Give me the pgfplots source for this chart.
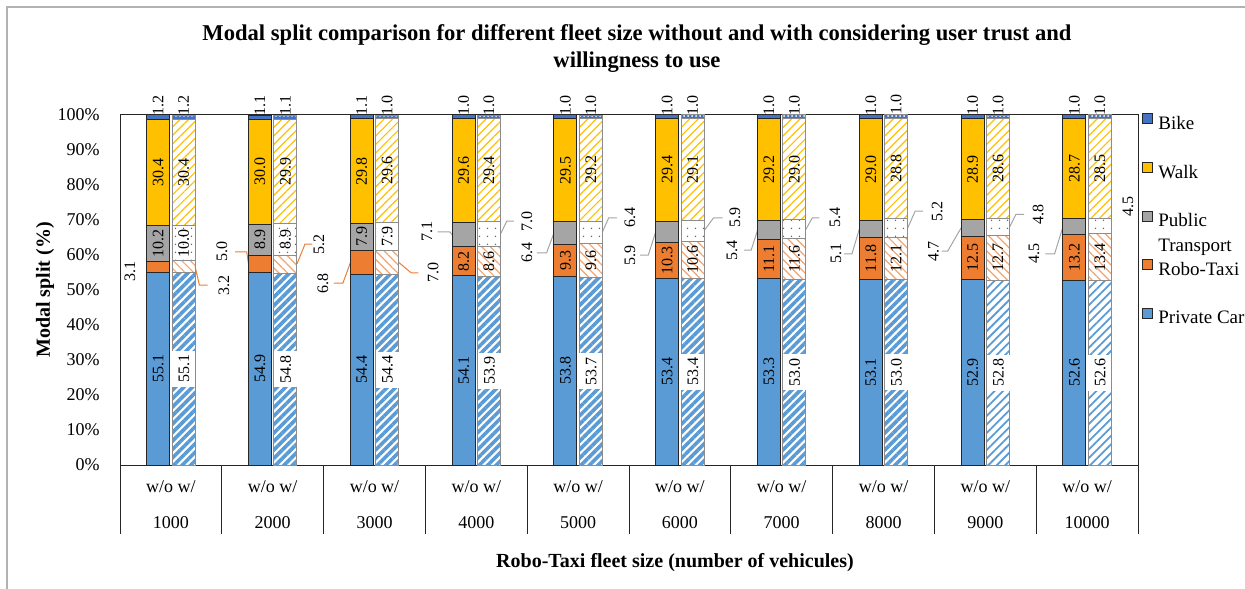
\documentclass[border=0pt]{standalone}
\usepackage{fontspec}
\setmainfont{Liberation Serif}
\usepackage{pgfplots}
\pgfplotsset{compat=1.18}
\usetikzlibrary{patterns.meta}

\definecolor{pcblue}{HTML}{5B9BD5}
\definecolor{rtorange}{HTML}{ED7D31}
\definecolor{ptgray}{HTML}{A5A5A5}
\definecolor{walkyellow}{HTML}{FFC000}
\definecolor{bikeblue}{HTML}{4472C4}

% white box behind the labels on the hatched car bars
\protected\def\wl#1{{\setlength\fboxsep{0pt}\colorbox{white}{\rule[-3pt]{0pt}{11.5pt}\hspace{2pt}#1\hspace{2pt}}}}
\protected\def\st{\strut}

\tikzset{lab/.style={rotate=90, font=\fontsize{8}{9}\selectfont, inner sep=0pt}}

\pgfplotsset{
  modal/.style={
    scale only axis, width=509pt, height=175pt,
    at={(60pt,-232.5pt)}, anchor=south west,
    xmin=-0.5, xmax=9.5, ymin=0, ymax=100,
    ybar stacked, bar width=0.225,
    clip=false,
    nodes near coords, point meta=explicit symbolic,
    every node near coord/.append style={rotate=90, anchor=center,
      font=\fontsize{8}{9}\selectfont, inner sep=0.5pt, text=black},
  },
  wo/.style={draw=black!85, line width=0.5pt},
  wi/.style={draw=black!45, line width=0.5pt},
}

\begin{document}
\begin{tikzpicture}
\useasboundingbox (0,0) rectangle (622.5pt,-294pt);
\draw[black!30, line width=0.8pt] (3.5pt,-3.5pt) rectangle (640pt,-310pt);

% ---- without trust: axis, ticks, legend
\begin{axis}[modal,
    tick pos=left, major tick length=0pt,
    axis line style={black!85, line width=0.5pt},
    ytick={0,10,...,100},
    yticklabels={0\%,10\%,20\%,30\%,40\%,50\%,60\%,70\%,80\%,90\%,100\%},
    yticklabel style={font=\fontsize{9}{11}\selectfont, inner xsep=0pt, xshift=-10pt},
    xtick={0,...,9},
    xticklabels={{w/o w/\\[7pt]1000}, {w/o w/\\[7pt]2000}, {w/o w/\\[7pt]3000},
      {w/o w/\\[7pt]4000}, {w/o w/\\[7pt]5000}, {w/o w/\\[7pt]6000}, {w/o w/\\[7pt]7000},
      {w/o w/\\[7pt]8000}, {w/o w/\\[7pt]9000}, {w/o w/\\[7pt]10000}},
    xticklabel style={font=\fontsize{9}{11}\selectfont, align=center, yshift=-4.5pt},
    extra x ticks={-0.5,0.5,...,9.5},
    extra x tick labels={},
    extra x tick style={major tick length=34.5pt, tick align=outside,
      tick style={draw=black!85, line width=0.5pt}},
    legend style={at={(1,1)}, anchor=north west, xshift=2pt, yshift=1pt,
      draw=none, fill=none, inner sep=0pt, row sep=2.6pt, column sep=2.5pt,
      nodes={inner sep=0pt}, font=\fontsize{9.5}{11.5}\selectfont},
    legend cell align=left,
    legend image code/.code={\draw[#1] (0pt,-0.5pt) rectangle (5pt,4.5pt);},
    reverse legend,
  ]
  \addplot[wo, fill=pcblue] coordinates {
    (-0.125,55.1) [55.1] (0.875,54.9) [54.9] (1.875,54.4) [54.4] (2.875,54.1) [54.1]
    (3.875,53.8) [53.8] (4.875,53.4) [53.4] (5.875,53.3) [53.3] (6.875,53.1) [53.1]
    (7.875,52.9) [52.9] (8.875,52.6) [52.6]};
  \addlegendentry{\st Private Car}
  \addlegendimage{empty legend}\addlegendentry{\st}
  \addplot[wo, fill=rtorange] coordinates {
    (-0.125,3.1) [] (0.875,5.0) [] (1.875,6.8) [] (2.875,8.2) [8.2]
    (3.875,9.3) [9.3] (4.875,10.3) [10.3] (5.875,11.1) [11.1] (6.875,11.8) [11.8]
    (7.875,12.5) [12.5] (8.875,13.2) [13.2]};
  \addlegendentry{\st Robo-Taxi}
  \addlegendimage{empty legend}\addlegendentry{\st Transport}
  \addplot[wo, fill=ptgray] coordinates {
    (-0.125,10.2) [10.2] (0.875,8.9) [8.9] (1.875,7.9) [7.9] (2.875,7.1) []
    (3.875,6.4) [] (4.875,5.9) [] (5.875,5.4) [] (6.875,5.1) []
    (7.875,4.7) [] (8.875,4.5) []};
  \addlegendentry{\st Public}
  \addlegendimage{empty legend}\addlegendentry{\st}
  \addplot[wo, fill=walkyellow] coordinates {
    (-0.125,30.4) [30.4] (0.875,30.0) [30.0] (1.875,29.8) [29.8] (2.875,29.6) [29.6]
    (3.875,29.5) [29.5] (4.875,29.4) [29.4] (5.875,29.2) [29.2] (6.875,29.0) [29.0]
    (7.875,28.9) [28.9] (8.875,28.7) [28.7]};
  \addlegendentry{\st Walk}
  \addlegendimage{empty legend}\addlegendentry{\st}
  \addplot[wo, fill=bikeblue,
      every node near coord/.append style={anchor=west}] coordinates {
    (-0.125,1.2) [1.2] (0.875,1.1) [1.1] (1.875,1.1) [1.1] (2.875,1.0) [1.0]
    (3.875,1.0) [1.0] (4.875,1.0) [1.0] (5.875,1.0) [1.0] (6.875,1.0) [1.0]
    (7.875,1.0) [1.0] (8.875,1.0) [1.0]};
  \addlegendentry{\st Bike}

  % labels moved out of the thin segments
  \node[lab] at (axis cs:-0.402,55.4) {3.1};
  \draw[rtorange, line width=0.5pt] (axis cs:0.7625,57.4) -- (axis cs:0.745,60.9) -- (axis cs:0.63,60.9);
  \node[lab] at (axis cs:0.502,60.9) {5.0};
  \draw[rtorange, line width=0.5pt] (axis cs:1.7625,57.8) -- (axis cs:1.69,52.0) -- (axis cs:1.60,52.0);
  \node[lab] at (axis cs:1.494,52.0) {6.8};
  \draw[ptgray, line width=0.5pt] (axis cs:2.7625,65.85) -- (axis cs:2.74,66.6) -- (axis cs:2.62,66.6);
  \node[lab] at (axis cs:2.516,66.6) {7.1};
  \draw[ptgray, line width=0.5pt] (axis cs:3.7625,66.3) -- (axis cs:3.69,60.6) -- (axis cs:3.596,60.6);
  \node[lab] at (axis cs:3.498,60.6) {6.4};
  \draw[ptgray, line width=0.5pt] (axis cs:4.7625,66.65) -- (axis cs:4.69,60.0) -- (axis cs:4.61,60.0);
  \node[lab] at (axis cs:4.51,60.0) {5.9};
  \draw[ptgray, line width=0.5pt] (axis cs:5.7625,67.1) -- (axis cs:5.70,61.4) -- (axis cs:5.63,61.4);
  \node[lab] at (axis cs:5.512,61.4) {5.4};
  \draw[ptgray, line width=0.5pt] (axis cs:6.7625,67.45) -- (axis cs:6.69,60.3) -- (axis cs:6.61,60.3);
  \node[lab] at (axis cs:6.533,60.3) {5.1};
  \draw[ptgray, line width=0.5pt] (axis cs:7.7625,67.75) -- (axis cs:7.63,61.1) -- (axis cs:7.57,61.1);
  \node[lab] at (axis cs:7.49,61.1) {4.7};
  \draw[ptgray, line width=0.5pt] (axis cs:8.7625,68.05) -- (axis cs:8.68,60.3) -- (axis cs:8.59,60.3);
  \node[lab] at (axis cs:8.479,60.3) {4.5};
\end{axis}

% ---- with trust and willingness to use
\begin{axis}[modal, hide axis]
  \addplot[wi, pattern={Lines[angle=45,distance=3pt,line width=1.8pt]}, pattern color=pcblue] coordinates {
    (0.125,55.1) [\wl{55.1}] (1.125,54.8) [\wl{54.8}] (2.125,54.4) [\wl{54.4}] (3.125,53.9) [\wl{53.9}]
    (4.125,53.7) [\wl{53.7}] (5.125,53.4) [\wl{53.4}] (6.125,53.0) [\wl{53.0}] (7.125,53.0) [\wl{53.0}]
    (8.125,0) [] (9.125,0) []};
  \addplot[wi, pattern={Lines[angle=45,distance=3pt,line width=0.9pt]}, pattern color=pcblue] coordinates {
    (0.125,0) [] (1.125,0) [] (2.125,0) [] (3.125,0) []
    (4.125,0) [] (5.125,0) [] (6.125,0) [] (7.125,0) []
    (8.125,52.8) [\wl{52.8}] (9.125,52.6) [\wl{52.6}]};
  \addplot[wi, pattern={Lines[angle=-45,distance=3pt,line width=0.6pt]}, pattern color=rtorange!70] coordinates {
    (0.125,3.2) [] (1.125,5.2) [] (2.125,7.0) [] (3.125,8.6) [8.6]
    (4.125,9.6) [9.6] (5.125,10.6) [10.6] (6.125,11.6) [11.6] (7.125,12.1) [12.1]
    (8.125,12.7) [12.7] (9.125,13.4) [13.4]};
  \addplot[wi, pattern={Dots[distance=4pt,radius=0.45pt]}, pattern color=black!60] coordinates {
    (0.125,10.0) [10.0] (1.125,8.9) [8.9] (2.125,7.9) [7.9] (3.125,7.0) []
    (4.125,6.4) [] (5.125,5.9) [] (6.125,5.4) [] (7.125,5.2) []
    (8.125,4.8) [] (9.125,4.5) []};
  \addplot[wi, pattern={Lines[angle=45,distance=3pt,line width=0.6pt]}, pattern color=walkyellow] coordinates {
    (0.125,30.4) [30.4] (1.125,29.9) [29.9] (2.125,29.6) [29.6] (3.125,29.4) [29.4]
    (4.125,29.2) [29.2] (5.125,29.1) [29.1] (6.125,29.0) [29.0] (7.125,28.8) [28.8]
    (8.125,28.6) [28.6] (9.125,28.5) [28.5]};
  \addplot[wi, fill=bikeblue, postaction={pattern={Dots[distance=2pt,radius=0.5pt]}, pattern color=white},
      every node near coord/.append style={anchor=west}] coordinates {
    (0.125,1.2) [1.2] (1.125,1.1) [1.1] (2.125,1.0) [1.0] (3.125,1.0) [1.0]
    (4.125,1.0) [1.0] (5.125,1.0) [1.0] (6.125,1.0) [1.0] (7.125,1.0) [1.0]
    (8.125,1.0) [1.0] (9.125,1.0) [1.0]};

  \draw[rtorange, line width=0.5pt] (axis cs:0.2375,56.7) -- (axis cs:0.28,51.4) -- (axis cs:0.36,51.4);
  \node[lab] at (axis cs:0.52,51.4) {3.2};
  \draw[rtorange, line width=0.5pt] (axis cs:1.2375,57.4) -- (axis cs:1.317,63.1) -- (axis cs:1.386,63.1);
  \node[lab] at (axis cs:1.455,63.1) {5.2};
  \draw[rtorange, line width=0.5pt] (axis cs:2.2375,57.9) -- (axis cs:2.36,54.9) -- (axis cs:2.43,54.9);
  \node[lab] at (axis cs:2.575,55.1) {7.0};
  \draw[ptgray, line width=0.5pt] (axis cs:3.2375,66.0) -- (axis cs:3.30,69.7) -- (axis cs:3.37,69.7);
  \node[lab] at (axis cs:3.498,69.7) {7.0};
  \draw[ptgray, line width=0.5pt] (axis cs:4.2375,66.5) -- (axis cs:4.30,70.6) -- (axis cs:4.38,70.6);
  \node[lab] at (axis cs:4.51,70.6) {6.4};
  \draw[ptgray, line width=0.5pt] (axis cs:5.2375,66.95) -- (axis cs:5.33,70.6) -- (axis cs:5.42,70.6);
  \node[lab] at (axis cs:5.541,70.6) {5.9};
  \draw[ptgray, line width=0.5pt] (axis cs:6.2375,67.3) -- (axis cs:6.30,70.6) -- (axis cs:6.37,70.6);
  \node[lab] at (axis cs:6.524,70.6) {5.4};
  \draw[ptgray, line width=0.5pt] (axis cs:7.2375,67.7) -- (axis cs:7.31,72.5) -- (axis cs:7.39,72.5);
  \node[lab] at (axis cs:7.526,72.5) {5.2};
  \draw[ptgray, line width=0.5pt] (axis cs:8.2375,67.9) -- (axis cs:8.30,71.6) -- (axis cs:8.38,71.6);
  \node[lab] at (axis cs:8.518,71.6) {4.8};
  \node[lab] at (axis cs:9.402,74.0) {4.5};
\end{axis}

\node[font=\bfseries\fontsize{11.3}{13.5}\selectfont, align=center] at (318.5pt,-24.5pt)
  {Modal split comparison for different fleet size without and with considering user trust and\\willingness to use};
\node[font=\bfseries\fontsize{10}{12}\selectfont, rotate=90] at (22.5pt,-145pt) {Modal split (\%)};
\node[font=\bfseries\fontsize{10}{12}\selectfont] at (337.5pt,-281.5pt) {Robo-Taxi fleet size (number of vehicules)};
\end{tikzpicture}
\end{document}
